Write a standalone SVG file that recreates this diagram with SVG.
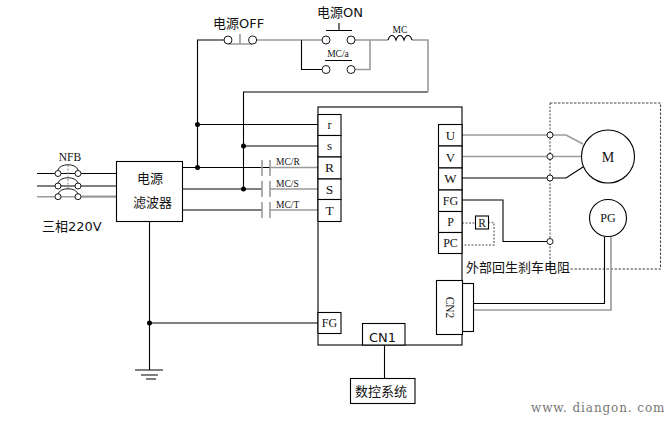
<svg xmlns="http://www.w3.org/2000/svg" width="671" height="421" viewBox="0 0 671 421">
<style>
.w{fill:none;stroke:#000;stroke-width:1.1}
.g{fill:none;stroke:#9a9a9a;stroke-width:1.6}
.d{fill:none;stroke:#8a8a8a;stroke-width:1.6;stroke-dasharray:2 1.5}
.k{fill:none;stroke:#444;stroke-width:1.1;stroke-dasharray:2.500 1.500}
.b{fill:#fff;stroke:#000;stroke-width:1.1}
.c{fill:#fff;stroke:#000;stroke-width:.9}
.dot{fill:#000;stroke:none}
.s{font-family:"Liberation Serif",serif;fill:#111;text-anchor:middle}
.t{font-family:"DejaVu Sans","Noto Sans CJK SC",sans-serif;fill:#111;font-size:13px}
.ml{font-size:9.500px;text-anchor:start}
</style>
<rect width="671" height="421" fill="#fff"/>
<g id="connectors">
<path class="w" d="M37 173.500H116M37 186H116"/>
<path class="g" d="M37 196.700H82"/>
<path class="g" style="stroke-width:2.200" d="M82 196.700H116"/>
<path class="w" d="M182 167.500H318M197.500 167.500V40H228M243.500 189V92H428"/>
<path class="w" d="M197.500 124.500H318M243.500 146H318"/>
<path class="w" d="M182 189H262M182 210H262"/>
<path class="g" d="M270 167.500H318M270 189H318M270 210H318"/>
<path class="g" d="M262 160V176M262 181V197M262 202V218"/>
<path class="g" d="M270 160V176M270 181V197M270 202V218"/>
<path class="g" d="M252 40H326M351 40H388M370 40V69.500H351M412 40H428V92"/>
<path class="w" d="M301.500 40V69.500H326M326 30.500H352M339 23V30.500M325 60.500H352"/>
<path class="w" d="M388 40C390 34 394 34 396 40C398 34 402 34 404 40C406 34 410 34 412 40"/>
<path class="g" d="M240 34V44M228 44H252"/>
<path class="g" d="M462 135H566L583 144M462 156.500H582"/>
<path class="w" d="M462 178H566L583 167"/>
<path class="w" d="M462 200H503V241.500H550"/>
<path class="d" d="M462 223H475M488 222.500H494V245H462"/>
<path class="d" d="M550 103V269"/>
<path class="k" d="M550 103H660.500V269H570"/>
<path class="w" d="M604.500 237V303.500H473"/>
<path class="g" d="M611 237V310H473"/>
<path class="w" d="M149.500 221V370M149.500 323H318M135 370H163M141 375H158M146 379H156"/>
<path class="w" d="M384.500 345V378"/>
<circle class="dot" cx="197.500" cy="167.500" r="2.500"/>
<circle class="dot" cx="197.500" cy="124.500" r="2.500"/>
<circle class="dot" cx="243.500" cy="146" r="2.500"/>
<circle class="dot" cx="243.500" cy="189" r="2.500"/>
<circle class="dot" cx="149.500" cy="323" r="2.500"/>
</g>
<g id="controller">
<rect class="w" x="318" y="107" width="144" height="238"/>
</g>
<g id="nfb">
<text class="s" x="70" y="161" font-size="11.500">NFB</text>
<path class="c" style="fill:none" d="M58 170C60 163 76 163 78 170M58 183C60 176 76 176 78 183M58 194C60 187 76 187 78 194"/>
<path class="d" style="stroke-width:1" d="M68 165V190"/>
<circle class="c" cx="58" cy="173.500" r="3"/><circle class="c" cx="78" cy="173.500" r="3"/>
<circle class="c" cx="58" cy="186" r="3"/><circle class="c" cx="78" cy="186" r="3"/>
<circle class="c" cx="58" cy="196.700" r="3"/><circle class="c" cx="78" cy="196.700" r="3"/>
<text class="t" x="42" y="231">三相220V</text>
</g>
<g id="filter">
<rect class="b" x="116.500" y="161.500" width="66" height="60"/>
<text class="t" x="137" y="183">电源</text>
<text class="t" x="133" y="207">滤波器</text>
</g>
<g id="switch-off">
<text class="t" x="213" y="28">电源OFF</text>
<circle class="c" cx="228" cy="40" r="4"/><circle class="c" cx="252.700" cy="40" r="4"/>
</g>
<g id="switch-on">
<text class="t" x="317" y="17">电源ON</text>
<circle class="c" cx="326" cy="40" r="4"/><circle class="c" cx="351" cy="40" r="4"/>
</g>
<g id="mc-a">
<text class="s" x="338" y="57" font-size="9.500">MC/a</text>
<circle class="c" cx="326" cy="69.500" r="4"/><circle class="c" cx="351" cy="69.500" r="4"/>
</g>
<g id="mc">
<text class="s" x="400" y="33" font-size="9.500">MC</text>
</g>
<g id="contactors">
<text class="s ml" x="276" y="165">MC/R</text>
<text class="s ml" x="276" y="187">MC/S</text>
<text class="s ml" x="276" y="208">MC/T</text>
</g>
<g id="terminals-in">
<rect class="b" x="318" y="114.500" width="23" height="21"/><text class="s" x="329.500" y="129" font-size="12">r</text>
<rect class="b" x="318" y="135.500" width="23" height="21.500"/><text class="s" x="329.500" y="150" font-size="13">s</text>
<rect class="b" x="318" y="157" width="23" height="22"/><text class="s" x="329.500" y="172" font-size="13.500">R</text>
<rect class="b" x="318" y="179" width="23" height="20.500"/><text class="s" x="329.500" y="194" font-size="13.500">S</text>
<rect class="b" x="318" y="199.500" width="23" height="22"/><text class="s" x="329.500" y="214.500" font-size="13.500">T</text>
<rect class="b" x="318" y="312.500" width="23" height="21"/><text class="s" x="329.500" y="327" font-size="12">FG</text>
</g>
<g id="terminals-out">
<rect class="b" x="438.500" y="124.500" width="23.500" height="21.500"/><text class="s" x="450.500" y="139.500" font-size="13">U</text>
<rect class="b" x="438.500" y="146" width="23.500" height="22"/><text class="s" x="450.500" y="161.500" font-size="13">V</text>
<rect class="b" x="438.500" y="168" width="23.500" height="22"/><text class="s" x="450.500" y="183" font-size="13">W</text>
<rect class="b" x="438.500" y="190" width="23.500" height="21.500"/><text class="s" x="450.500" y="204.500" font-size="12">FG</text>
<rect class="b" x="438.500" y="211.500" width="23.500" height="21"/><text class="s" x="450.500" y="225.500" font-size="12">P</text>
<rect class="b" x="438.500" y="232.500" width="23.500" height="21"/><text class="s" x="450.500" y="247" font-size="12">PC</text>
</g>
<g id="resistor">
<rect class="b" x="475.500" y="216" width="13" height="13"/><text class="s" x="482" y="226.500" font-size="11.500">R</text>
<text class="t" x="466" y="272">外部回生刹车电阻</text>
</g>
<g id="junctions">
<circle class="c" cx="550" cy="135" r="3"/><circle class="c" cx="550" cy="156.500" r="3"/>
<circle class="c" cx="550" cy="178" r="3"/><circle class="c" cx="550" cy="241.500" r="3"/>
</g>
<g id="motor">
<circle class="b" cx="608" cy="156.500" r="26.500"/><text class="s" x="608" y="161.500" font-size="14">M</text>
</g>
<g id="pg">
<circle class="b" cx="608" cy="218" r="18.500"/><text class="s" x="608" y="222" font-size="12">PG</text>
</g>
<g id="cn2">
<rect class="b" x="462.500" y="283.500" width="11" height="48"/>
<rect class="b" x="436.500" y="280.500" width="26" height="54"/>
<text class="s" transform="translate(449.500 307.500) rotate(90)" y="3.500" font-size="11.500">CN2</text>
</g>
<g id="cn1">
<rect class="b" x="362.500" y="323.500" width="42.500" height="21.500"/>
<text class="t" x="369" y="342">CN1</text>
</g>
<g id="cnc">
<rect class="b" x="350.500" y="378.500" width="64.500" height="25"/>
<text class="t" x="355" y="396">数控系统</text>
</g>
<text x="531" y="412" font-family="DejaVu Serif,serif" font-size="12" letter-spacing="0.900" fill="#777">www. diangon. com</text>
</svg>
